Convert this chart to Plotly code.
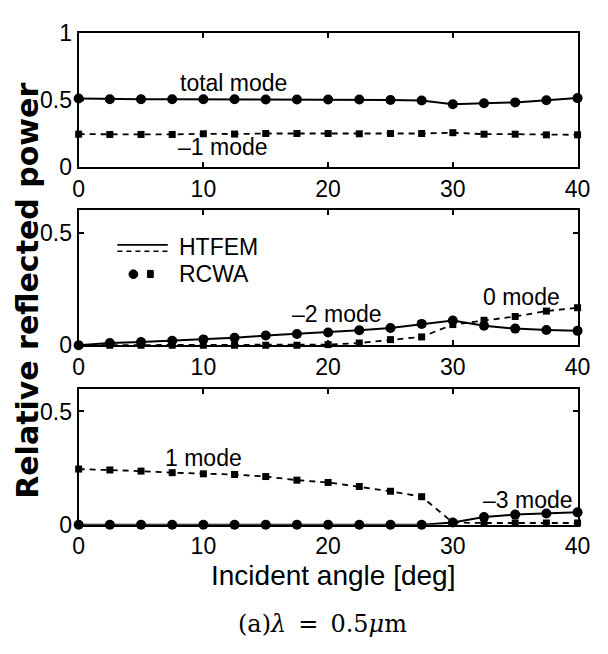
import plotly.graph_objects as go

# ---------------- data ----------------
angles = [0, 2.5, 5, 7.5, 10, 12.5, 15, 17.5, 20, 22.5, 25, 27.5, 30, 32.5, 35, 37.5, 40]

# panel 1
total_mode = [0.513, 0.508, 0.507, 0.507, 0.507, 0.507, 0.506, 0.506, 0.505, 0.505,
              0.502, 0.498, 0.470, 0.478, 0.484, 0.500, 0.516]
mode_m1 = [0.247, 0.245, 0.245, 0.245, 0.250, 0.248, 0.252, 0.252, 0.252, 0.250,
           0.252, 0.252, 0.258, 0.247, 0.247, 0.242, 0.242]

# panel 2
mode_m2 = [0.0, 0.010, 0.014, 0.020, 0.026, 0.033, 0.043, 0.050, 0.057, 0.067,
           0.077, 0.095, 0.110, 0.087, 0.074, 0.068, 0.064]
mode_0 = [0.0, 0.0, 0.0, 0.0, 0.0, 0.0, 0.0, 0.0, 0.003, 0.010,
          0.025, 0.037, 0.092, 0.111, 0.128, 0.152, 0.167]

# panel 3
mode_p1 = [0.246, 0.242, 0.237, 0.230, 0.225, 0.222, 0.213, 0.197, 0.187, 0.169,
           0.148, 0.124, 0.010, 0.008, 0.008, 0.008, 0.008]
mode_m3 = [0.0, 0.0, 0.0, 0.0, 0.0, 0.0, 0.0, 0.0, 0.0, 0.0,
           0.0, 0.0, 0.010, 0.034, 0.045, 0.050, 0.055]

x_ticks = [0, 10, 20, 30, 40]
x_ticktext = ["0", "10", "20", "30", "40"]
y_ticks_top = [0, 0.5, 1]
y_ticktext_top = ["0", "0.5", "1"]
y_ticks_low = [0, 0.5]
y_ticktext_low = ["0", "0.5"]

# ---------------- style ----------------
SANS = "Liberation Sans, Arial, Helvetica, sans-serif"
W, H = 608, 654

def px_x(p):
    return p / W

def px_y(p):
    return 1 - p / H

x_dom = [px_x(75), px_x(590)]
y_doms = [
    [px_y(160.7), px_y(21)],
    [px_y(346), px_y(205.6)],
    [px_y(533), px_y(391.4)],
]

fig = go.Figure()

def add_series(vals, axis_idx, solid, marker):
    xa = "x" if axis_idx == 1 else f"x{axis_idx}"
    ya = "y" if axis_idx == 1 else f"y{axis_idx}"
    fig.add_trace(go.Scatter(
        x=angles, y=vals, xaxis=xa, yaxis=ya,
        mode="lines+markers", cliponaxis=False, showlegend=False,
        line=dict(color="black", width=2 if solid else 1.8,
                  dash="solid" if solid else "6px,5px"),
        marker=dict(symbol=marker, color="black",
                    size=10 if marker == "circle" else 7),
    ))

add_series(total_mode, 1, True, "circle")
add_series(mode_m1, 1, False, "square")
add_series(mode_m2, 2, True, "circle")
add_series(mode_0, 2, False, "square")
add_series(mode_p1, 3, False, "square")
add_series(mode_m3, 3, True, "circle")

axis_common = dict(
    showline=True, linewidth=2, linecolor="black", mirror="ticks",
    ticks="inside", ticklen=5, tickwidth=1.5, tickcolor="black",
    showgrid=False, zeroline=False,
    tickfont=dict(family=SANS, size=23, color="black"),
)

layout = dict(
    width=W, height=H, margin=dict(l=0, r=0, t=0, b=0),
    paper_bgcolor="white", plot_bgcolor="white", showlegend=False,
)
for i in range(1, 4):
    sx = "" if i == 1 else str(i)
    layout[f"xaxis{sx}"] = dict(
        axis_common, domain=x_dom, range=[0, 40],
        anchor=f"y{sx}", tickvals=x_ticks, ticktext=x_ticktext, ticklabelstandoff=0,
    )
    if i == 1:
        yr, tv, tt = [0, 1], y_ticks_top, y_ticktext_top
    else:
        yr, tv, tt = [0, 0.6], y_ticks_low, y_ticktext_low
    layout[f"yaxis{sx}"] = dict(
        axis_common, domain=y_doms[i - 1], range=yr,
        anchor=f"x{sx}", tickvals=tv, ticktext=tt, ticklabelstandoff=0,
    )
fig.update_layout(**layout)

lab_font = dict(family=SANS, size=23, color="black")
annots = [
    dict(x=12.4, y=0.63, xref="x", yref="y", text="total mode"),
    dict(x=11.6, y=0.148, xref="x", yref="y", text="\u20131 mode"),
    dict(x=20.7, y=0.137, xref="x2", yref="y2", text="\u20132 mode"),
    dict(x=35.5, y=0.214, xref="x2", yref="y2", text="0 mode"),
    dict(x=10.0, y=0.296, xref="x3", yref="y3", text="1 mode"),
    dict(x=36.0, y=0.11, xref="x3", yref="y3", text="\u20133 mode"),
]
for a in annots:
    fig.add_annotation(**a, showarrow=False, font=lab_font,
                       xanchor="center", yanchor="middle")

# axis titles and caption
fig.add_annotation(x=px_x(22), y=px_y(289), xref="paper", yref="paper",
                   text="<b>Relative reflected power</b>", textangle=-90,
                   showarrow=False, xanchor="center", yanchor="middle",
                   font=dict(family="DejaVu Sans, sans-serif", size=30, color="black"))
fig.add_annotation(x=px_x(338), y=px_y(586), xref="paper", yref="paper",
                   text="Incident angle [deg]", showarrow=False,
                   xanchor="center", yanchor="middle",
                   font=dict(family=SANS, size=28, color="black"))
fig.add_annotation(x=px_x(327), y=px_y(636), xref="paper", yref="paper",
                   text="(a)<i>\u03bb</i>\u2002=\u20020.5<i>\u03bc</i>m", showarrow=False,
                   xanchor="center", yanchor="middle",
                   font=dict(family="DejaVu Serif, serif", size=24, color="black"))

# manual legend (HTFEM lines, RCWA markers)
fig.add_shape(type="line", xref="paper", yref="paper",
              x0=px_x(115), x1=px_x(167), y0=px_y(241.5), y1=px_y(241.5),
              line=dict(color="black", width=1.8))
fig.add_shape(type="line", xref="paper", yref="paper",
              x0=px_x(115), x1=px_x(167), y0=px_y(248), y1=px_y(248),
              line=dict(color="black", width=1.5, dash="5px,4px"))
fig.add_shape(type="circle", xref="paper", yref="paper",
              x0=px_x(127), x1=px_x(136), y0=px_y(276.5), y1=px_y(267.5),
              fillcolor="black", line=dict(color="black", width=1))
fig.add_shape(type="rect", xref="paper", yref="paper",
              x0=px_x(146), x1=px_x(152), y0=px_y(275.5), y1=px_y(268),
              fillcolor="black", line=dict(color="black", width=1))
fig.add_annotation(x=px_x(177), y=px_y(244), xref="paper", yref="paper",
                   text="HTFEM", showarrow=False, xanchor="left", yanchor="middle",
                   font=lab_font)
fig.add_annotation(x=px_x(177), y=px_y(272), xref="paper", yref="paper",
                   text="RCWA", showarrow=False, xanchor="left", yanchor="middle",
                   font=lab_font)

fig.write_html("out.html")
